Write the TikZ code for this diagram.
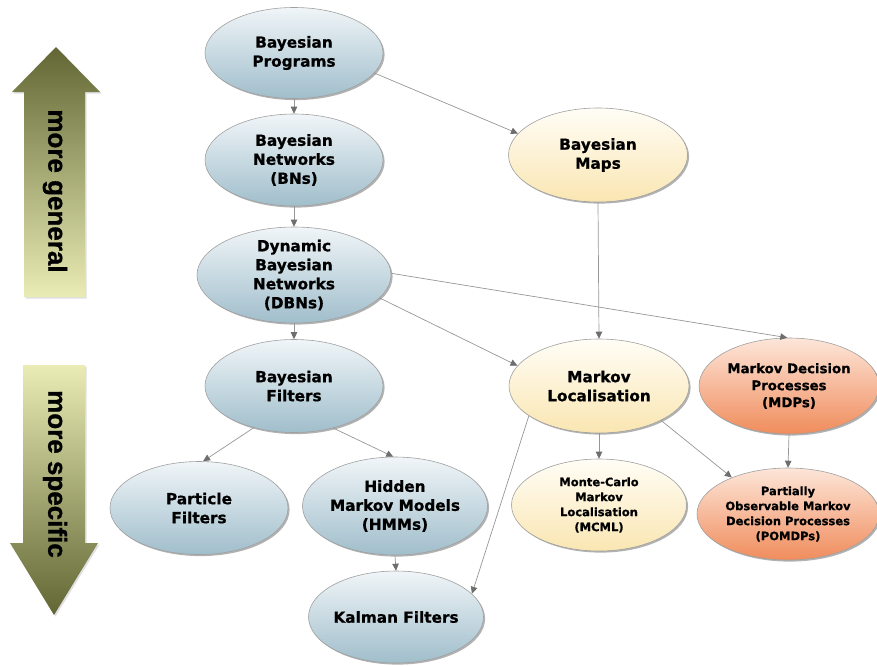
\documentclass[tikz,border=0pt]{standalone}
\usepackage{fontspec}
\newfontfamily\nodefont{DejaVu Sans}[BoldFeatures={FakeBold=0.8}]
\newfontfamily\arrowfont{Liberation Sans}[BoldFeatures={FakeBold=1}]
\usetikzlibrary{shapes.geometric,shadows,arrows.meta}
\definecolor{bluetop}{RGB}{240,245,248}
\definecolor{bluebot}{RGB}{160,190,203}
\definecolor{yeltop}{RGB}{255,253,246}
\definecolor{yelbot}{RGB}{250,230,178}
\definecolor{orgtop}{RGB}{253,230,217}
\definecolor{orgbot}{RGB}{240,140,92}
\definecolor{ellgray}{RGB}{160,160,160}
\definecolor{conngray}{RGB}{150,150,150}
\definecolor{tipgray}{RGB}{110,110,110}
\definecolor{olivedark}{RGB}{98,102,52}
\definecolor{olivepale}{RGB}{233,236,180}
\begin{document}
\begin{tikzpicture}[x=1pt,y=-1pt,
  base/.style={ellipse, draw=ellgray, line width=0.6pt, inner xsep=-4pt, inner ysep=-8pt,
    align=center, text=black,
    font=\nodefont\bfseries\fontsize{15.3}{19}\selectfont,
    drop shadow={shadow xshift=1.6pt,shadow yshift=-1.6pt,opacity=0.5,fill=black!60}},
  small/.style={font=\nodefont\bfseries\fontsize{11.5}{15}\selectfont},
  mid/.style={font=\nodefont\bfseries\fontsize{13.3}{17}\selectfont},
  bluenode/.style={base, top color=bluetop, bottom color=bluebot},
  yelnode/.style={base, top color=yeltop, bottom color=yelbot},
  orgnode/.style={base, top color=orgtop, bottom color=orgbot},
  sz/.style 2 args={minimum width=#1pt, minimum height=#2pt},
  conn/.style={draw=conngray, line width=0.7pt, -{Triangle[length=7pt,width=6.5pt,color=tipgray]}},
  bigtext/.style={font=\arrowfont\bfseries\fontsize{26}{30}\selectfont, text=black, rotate=-90}
]
\useasboundingbox (0,0) rectangle (877,665);

% big arrows
\path[top color=olivedark, bottom color=olivepale, drop shadow={shadow xshift=1.5pt,shadow yshift=-1.5pt,opacity=0.25}]
  (56,47) -- (100,92) -- (85,92) -- (85,297) -- (24,297) -- (24,92) -- (12,92) -- cycle;
\node[bigtext] (gen) at (55,191) {more general};
\path[top color=olivepale, bottom color=olivedark, drop shadow={shadow xshift=1.5pt,shadow yshift=-1.5pt,opacity=0.25}]
  (23,365) -- (85,365) -- (85,543) -- (98,543) -- (54,615) -- (10,543) -- (23,543) -- cycle;
\node[bigtext] (spec) at (55,474) {more specific};

% nodes
\node[bluenode, sz={178}{91}] (bp) at (294,53) {Bayesian\\Programs};
\node[bluenode, sz={178}{92}] (bn) at (294,160) {Bayesian\\Networks\\(BNs)};
\node[bluenode, sz={194}{96}] (dbn) at (294,275) {Dynamic\\Bayesian\\Networks\\(DBNs)};
\node[bluenode, sz={178}{93}] (bf) at (294,386) {Bayesian\\Filters};
\node[bluenode, sz={178}{93}] (pf) at (199,508) {Particle\\Filters};
\node[bluenode, sz={185}{98}] (hmm) at (395,506) {Hidden\\Markov Models\\(HMMs)};
\node[bluenode, sz={175}{92}] (kf) at (396,617) {Kalman Filters};
\node[yelnode, sz={179}{94}] (bm) at (598,155) {Bayesian\\Maps};
\node[yelnode, sz={180}{94}] (ml) at (599,386) {Markov\\Localisation};
\node[yelnode, small, sz={175}{92}] (mcml) at (599,505) {Monte-Carlo\\Markov\\Localisation\\(MCML)};
\node[orgnode, mid, sz={180}{96}] (mdp) at (789,386) {Markov Decision\\Processes\\(MDPs)};
\node[orgnode, small, sz={182}{92}] (pomdp) at (788,514) {Partially\\Observable Markov\\Decision Processes\\(POMDPs)};

% connectors
\draw[conn] (bp) -- (bn);
\draw[conn] (bp.-14) -- (bm.165);
\draw[conn] (bn) -- (dbn);
\draw[conn] (dbn) -- (bf);
\draw[conn] (dbn.1) -- (mdp.92);
\draw[conn] (dbn.-15) -- (ml.166);
\draw[conn] (bm.south) -- (ml.north);
\draw[conn] (bf.-134) -- (pf.85);
\draw[conn] (bf.-47) -- (hmm.92);
\draw[conn] (hmm.south) -- (kf.north);
\draw[conn] (ml.south) -- (mcml.north);
\draw[conn] (ml.-29) -- (pomdp.147);
\draw[conn] (ml.-157) -- (kf.17);
\draw[conn] (mdp.south) -- (pomdp.north);
\end{tikzpicture}
\end{document}
